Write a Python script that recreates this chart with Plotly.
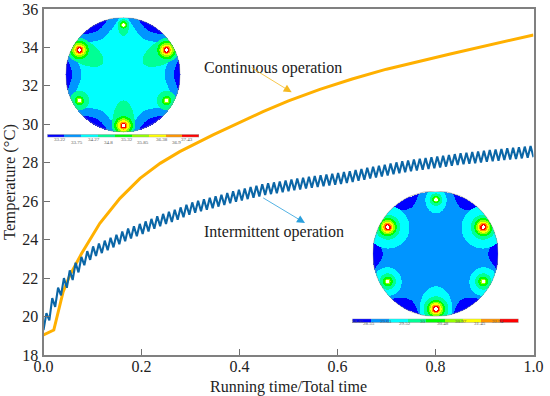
import numpy as np
import plotly.graph_objects as go

W, H = 550, 396

continuous_x = [0, .021, .04, .054, .078, .115, .156, .197, .238, .278, .346, .4, .448, .5, .564, .63, .7, .83, .92, 1.0]
continuous_t = [19.04, 19.3, 21.28, 22.16, 23.29, 24.85, 26.15, 27.19, 27.97, 28.58, 29.45, 30.08, 30.66, 31.22, 31.82, 32.36, 32.87, 33.66, 34.2, 34.65]

intermittent_start = 19.3
intermittent_peaks = [20.18, 20.96, 21.5, 22.0, 22.4, 22.8, 23.1, 23.4, 23.65, 23.8, 23.95, 24.1, 24.25, 24.42, 24.58, 24.7,
                      24.82, 24.95, 25.08, 25.22, 25.34, 25.45, 25.56, 25.68, 25.82, 25.94, 26.02, 26.1, 26.18, 26.26, 26.34, 26.43,
                      26.52, 26.6, 26.66, 26.74, 26.8, 26.88, 26.93, 26.98, 27.03, 27.08, 27.13, 27.18, 27.22, 27.27, 27.31, 27.35,
                      27.39, 27.43, 27.47, 27.52, 27.56, 27.62, 27.68, 27.74, 27.79, 27.85, 27.9, 27.96, 28.02, 28.08, 28.12, 28.17,
                      28.21, 28.25, 28.29, 28.33, 28.37, 28.41, 28.45, 28.49, 28.52, 28.56, 28.59, 28.62, 28.66, 28.69, 28.72, 28.75,
                      28.78, 28.81, 28.84, 28.87]
intermittent_troughs = [19.8, 20.5, 21.1, 21.5, 21.9, 22.3, 22.67, 22.95, 23.15, 23.3, 23.45, 23.6, 23.76, 23.92, 24.06, 24.18,
                        24.3, 24.43, 24.57, 24.7, 24.82, 24.92, 25.04, 25.17, 25.3, 25.4, 25.48, 25.56, 25.64, 25.72, 25.8, 25.9,
                        25.97, 26.04, 26.11, 26.18, 26.25, 26.32, 26.37, 26.42, 26.47, 26.52, 26.57, 26.61, 26.66, 26.7, 26.74, 26.78,
                        26.82, 26.86, 26.9, 26.95, 27.0, 27.06, 27.12, 27.18, 27.23, 27.29, 27.34, 27.4, 27.46, 27.51, 27.56, 27.6,
                        27.64, 27.68, 27.72, 27.76, 27.8, 27.84, 27.88, 27.92, 27.95, 27.98, 28.01, 28.05, 28.08, 28.11, 28.14, 28.17,
                        28.2, 28.23, 28.26, 28.29]

band_colors = ["#0000ff", "#0095ff", "#00ffff", "#00ff95", "#00ff00", "#95ff00", "#ffff00", "#ff9500", "#ff0000"]
legend_a = ["33.22", "33.75", "34.27", "34.8", "35.32", "35.85", "36.38", "36.9", "37.43"]
legend_b = ["28.05", "28.55", "29.03", "29.52", "30", "30.48", "30.97", "31.45", "31.94"]

# heat sources on the disc: top, upper left, upper right, lower left, lower right, bottom
src_x = [0, -.756, .756, -.756, .756, 0]
src_y = [.87, .43, .43, -.44, -.44, -.878]

# contour bands round each source: (band, reach toward the centre, half width)
hot_a = [(3, .47, .21), (4, .165, .165), (5, .125, .125), (6, .095, .095), (7, .07, .07), (8, .05, .05)]
weak_a_top = [(3, .19, .10), (4, .065, .065), (5, .04, .04)]
weak_a_low = [(3, .17, .17), (4, .08, .08), (5, .05, .05)]
bottom_a = [(3, .44, .20), (4, .165, .165), (5, .125, .125), (6, .095, .095), (7, .07, .07), (8, .05, .05)]
rings_a = [weak_a_top, hot_a, hot_a, weak_a_low, weak_a_low, bottom_a]

hot_b = [(2, .35, .34), (3, .2, .2), (4, .145, .145), (5, .115, .115), (6, .09, .09), (7, .07, .07), (8, .05, .05)]
weak_b_top = [(2, .22, .17), (3, .10, .10), (4, .06, .06), (5, .035, .035)]
weak_b_low = [(2, .22, .23), (3, .13, .13), (4, .08, .08), (5, .045, .045)]
bottom_b = [(2, .36, .26), (3, .2, .2), (4, .145, .145), (5, .115, .115), (6, .09, .09), (7, .07, .07), (8, .05, .05)]
rings_b = [weak_b_top, hot_b, hot_b, weak_b_low, weak_b_low, bottom_b]


def px_dom_x(a, b):
    return [a / W, b / W]


def px_dom_y(a, b):
    return [1 - b / H, 1 - a / H]


def disc_field(n, rings, core, rc, rb_r0, rb_span):
    g = np.linspace(-1, 1, n)
    X, Y = np.meshgrid(g, g)
    R = np.hypot(X, Y)
    ang = np.degrees(np.arctan2(Y, X)) % 60
    delta = np.minimum(ang, 60 - ang)
    band = np.full_like(R, float(core))
    if rc is not None:
        band[R > rc[0] + (1 - rc[0]) * (delta / rc[1]) ** 2] = 1
    band[R > rb_r0 + (1 - rb_r0) * (delta / rb_span) ** 2] = 0
    for sx, sy, source in zip(src_x, src_y, rings):
        norm = np.hypot(sx, sy)
        ux, uy = -sx / norm, -sy / norm
        dx, dy = X - sx, Y - sy
        along = dx * ux + dy * uy
        across = -dx * uy + dy * ux
        for b, reach, half in source:
            a = np.where(along > 0, along / reach, along / half)
            inside = a ** 2 + (across / half) ** 2 <= 1
            band[inside] = np.maximum(band[inside], b)
        band[np.hypot(dx, dy) < .028] = 9
    band[R > 1] = np.nan
    return g, band


scale = []
for i, c in enumerate(band_colors + ["#ffffff"]):
    scale += [[i / 10, c], [(i + 1) / 10, c]]

fig = go.Figure()

fig.add_trace(go.Scatter(x=continuous_x, y=continuous_t, mode="lines", line=dict(color="#ffb000", width=3), name="Continuous operation"))
bx = [0.0]
by = [intermittent_start]
for i, (p, t) in enumerate(zip(intermittent_peaks, intermittent_troughs)):
    bx += [(i + .5) / len(intermittent_peaks), (i + 1) / len(intermittent_peaks)]
    by += [p, t]
fig.add_trace(go.Scatter(x=bx, y=by, mode="lines", line=dict(color="#0b66a6", width=2.1), name="Intermittent operation"))

L, R_, T, B = 43.5, 533.5, 9, 355
axis = dict(showgrid=False, zeroline=False, ticks="inside", ticklen=6, tickwidth=1, tickcolor="#707070",
            showline=True, linecolor="#808080", linewidth=2, mirror=True, automargin=False,
            tickfont=dict(family="Liberation Serif", size=16, color="#222"))
fig.update_layout(
    width=W, height=H, margin=dict(l=0, r=0, t=0, b=0), paper_bgcolor="white", plot_bgcolor="white", showlegend=False,
    xaxis=dict(axis, domain=px_dom_x(L, R_), range=[0, 1], tickvals=[0, .2, .4, .6, .8, 1.0], ticktext=["0.0", "0.2", "0.4", "0.6", "0.8", "1.0"],
               ticklabelstandoff=-4,
               title=dict(text="Running time/Total time", font=dict(family="Liberation Serif", size=16, color="#222"))),
    yaxis=dict(axis, domain=px_dom_y(T, B), range=[18, 36], tickvals=list(range(18, 37, 2)),
               title=dict(text="Temperature (°C)", font=dict(family="Liberation Serif", size=16.5, color="#222"))),
)

insets = [
    dict(cx=123, cy=74.8, r=57.4, bar=(47.3, 199, 134.3, 137.3), labels=legend_a,
         lx=[52, 69, 85.7, 102, 119, 135, 154, 170, 187], ly=(139.7, 142.7),
         field=dict(n=115, rings=rings_a, core=2, rc=(.72, 26), rb_r0=.885, rb_span=15)),
    dict(cx=435.5, cy=253.8, r=62.8, bar=(352.3, 518.7, 318.7, 322.7), labels=legend_b,
         lx=[358.3, 376.7, 394.3, 413.3, 428.3, 451, 469, 487.7, 506], ly=(325.7, 328.3),
         field=dict(n=126, rings=rings_b, core=1, rc=None, rb_r0=.835, rb_span=14)),
]
hidden = dict(visible=False, showgrid=False, zeroline=False)
ax_i = 2
for ins in insets:
    xa, ya = f"x{ax_i}", f"y{ax_i}"
    g, band = disc_field(**ins["field"])
    fig.add_trace(go.Heatmap(x=g, y=g, z=band, zmin=0, zmax=10, colorscale=scale, showscale=False, xaxis=xa, yaxis=ya, hoverinfo="skip"))
    fig.layout[f"xaxis{ax_i}"] = dict(hidden, domain=px_dom_x(ins["cx"] - ins["r"], ins["cx"] + ins["r"]), range=[-1, 1])
    fig.layout[f"yaxis{ax_i}"] = dict(hidden, domain=px_dom_y(ins["cy"] - ins["r"], ins["cy"] + ins["r"]), range=[-1, 1])
    fig.add_shape(type="circle", xref=xa, yref=ya, x0=-1, x1=1, y0=-1, y1=1, line=dict(color="#8a8a8a", width=.6))
    ax_i += 1
    xa, ya = f"x{ax_i}", f"y{ax_i}"
    x0, x1, y0, y1 = ins["bar"]
    fig.add_trace(go.Heatmap(z=[list(range(9))], zmin=0, zmax=10, colorscale=scale, showscale=False, xaxis=xa, yaxis=ya, hoverinfo="skip"))
    fig.layout[f"xaxis{ax_i}"] = dict(hidden, domain=px_dom_x(x0, x1), range=[-.5, 8.5])
    fig.layout[f"yaxis{ax_i}"] = dict(hidden, domain=px_dom_y(y0, y1), range=[-.5, .5])
    fig.add_shape(type="rect", xref=xa, yref=ya, x0=-.5, x1=8.5, y0=-.5, y1=.5, line=dict(color="#9a9a9a", width=.8))
    for i, (t, lx) in enumerate(zip(ins["labels"], ins["lx"])):
        fig.add_annotation(text=t, x=lx / W, y=1 - ins["ly"][i % 2] / H, xref="paper", yref="paper", showarrow=False,
                           font=dict(family="Liberation Serif", size=5, color="#555"))
    ax_i += 1

for text, x, y in [("Continuous operation", 272.5, 57), ("Intermittent operation", 274, 232)]:
    fig.add_annotation(text=text, x=x / W, y=1 - y / H, xref="paper", yref="paper", showarrow=False,
                       font=dict(family="Liberation Serif", size=16, color="#222"))

for (x0, y0, x1, y1, c) in [(250, 66.7, 291.7, 92.3, "#f5b921"), (261.7, 197, 305, 223, "#2a9fdc")]:
    fig.add_annotation(x=x1 / W, y=1 - y1 / H, xref="paper", yref="paper", ax=x0 - x1, ay=y0 - y1, axref="pixel", ayref="pixel",
                       text="", showarrow=True, arrowhead=2, arrowsize=2, arrowwidth=.8, arrowcolor=c)

fig.write_html("out.html", config=dict(displayModeBar=False), post_script="document.body.style.margin='0';")
